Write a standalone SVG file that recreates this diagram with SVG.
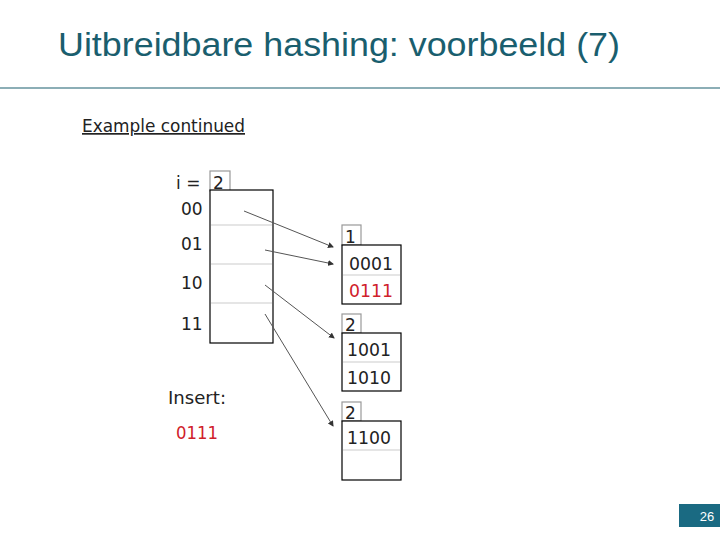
<svg xmlns="http://www.w3.org/2000/svg" width="720" height="540" viewBox="0 0 720 540">
<style>
.t{font-family:"DejaVu Sans",sans-serif;font-size:17px;fill:#222}
.r{fill:#d0202a}
.box{fill:#fff;stroke:#000;stroke-width:1.2}
.lbl{fill:#fff;stroke:#999;stroke-width:1.2}
.sep{stroke:#ddd;stroke-width:1.5}
.c{stroke:#555;stroke-width:1;fill:none;marker-end:url(#a)}
</style>
<defs><marker id="a" markerWidth="6" markerHeight="6" refX="5" refY="3" orient="auto" markerUnits="userSpaceOnUse"><path d="M0,0L6,3L0,6z" fill="#333"/></marker></defs>
<rect width="720" height="540" fill="#fff"/>
<text x="58" y="56" font-family="Liberation Sans,Arial,sans-serif" font-size="34" fill="#1a5e6e" textLength="562" lengthAdjust="spacingAndGlyphs">Uitbreidbare hashing: voorbeeld (7)</text>
<line x1="0" y1="88" x2="720" y2="88" stroke="#1a5e6e" stroke-width="1.2"/>
<text x="82" y="132" class="t" fill="#444" text-decoration="underline" textLength="163" lengthAdjust="spacingAndGlyphs">Example continued</text>
<g id="directory">
<text x="176" y="189" class="t">i =</text>
<rect class="lbl" x="210" y="171" width="20" height="20"/>
<text x="213" y="189" class="t">2</text>
<rect class="box" x="210" y="190" width="63" height="153"/>
<line class="sep" x1="211" y1="225" x2="272" y2="225"/>
<line class="sep" x1="211" y1="264" x2="272" y2="264"/>
<line class="sep" x1="211" y1="303" x2="272" y2="303"/>
<text x="181" y="215" class="t" font-size="15">00</text>
<text x="181" y="250" class="t" font-size="15">01</text>
<text x="181" y="289" class="t" font-size="15">10</text>
<text x="181" y="330" class="t" font-size="15">11</text>
</g>
<g id="bucket1">
<rect class="lbl" x="342" y="225" width="19" height="20"/>
<text x="345" y="243" class="t">1</text>
<rect class="box" x="342" y="245" width="59" height="59"/>
<line class="sep" x1="343" y1="275" x2="400" y2="275"/>
<text x="349" y="270" class="t" textLength="44" lengthAdjust="spacingAndGlyphs">0001</text>
<text x="349" y="297" class="t r" textLength="44" lengthAdjust="spacingAndGlyphs">0111</text>
</g>
<g id="bucket2">
<rect class="lbl" x="342" y="314" width="19" height="19"/>
<text x="345" y="331" class="t">2</text>
<rect class="box" x="342" y="333" width="59" height="58"/>
<line class="sep" x1="343" y1="362" x2="400" y2="362"/>
<text x="347" y="356" class="t" textLength="44" lengthAdjust="spacingAndGlyphs">1001</text>
<text x="347" y="384" class="t" textLength="44" lengthAdjust="spacingAndGlyphs">1010</text>
</g>
<g id="bucket3">
<rect class="lbl" x="342" y="402" width="19" height="19"/>
<text x="345" y="419" class="t">2</text>
<rect class="box" x="342" y="421" width="59" height="59"/>
<line class="sep" x1="343" y1="450" x2="400" y2="450"/>
<text x="347" y="444" class="t" textLength="44" lengthAdjust="spacingAndGlyphs">1100</text>
</g>
<g id="insert">
<text x="168" y="404" class="t" textLength="58" lengthAdjust="spacingAndGlyphs">Insert:</text>
<text x="176" y="439" class="t r" textLength="42" lengthAdjust="spacingAndGlyphs">0111</text>
</g>
<g id="connectors">
<line class="c" x1="244" y1="211" x2="333" y2="247"/>
<line class="c" x1="265" y1="250" x2="333" y2="264"/>
<line class="c" x1="265" y1="285" x2="334" y2="338"/>
<line class="c" x1="265" y1="314" x2="333" y2="426"/>
</g>
<g id="page">
<rect x="679" y="504" width="41" height="23" fill="#1a6a82"/>
<text x="707" y="521" font-family="Liberation Sans,Arial,sans-serif" font-size="13" fill="#fff" text-anchor="middle">26</text>
</g>
</svg>
